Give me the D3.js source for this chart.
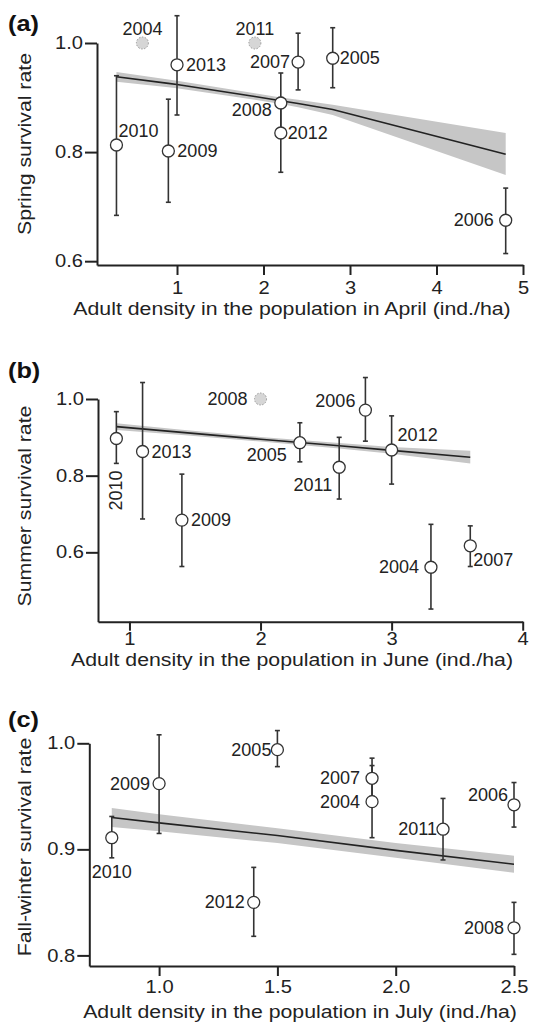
<!DOCTYPE html>
<html>
<head>
<meta charset="utf-8">
<script src="https://cdn.jsdelivr.net/npm/d3@7"></script>
<style>
  body { margin: 0; background: #fff; }
  svg { display: block; font-family: "Liberation Sans", Arial, sans-serif; }
  .axis path, .axis line { stroke: #222; stroke-width: 2; }
  .axis text { font-size: 17.5px; fill: #222; }
  .title { font-size: 18.5px; fill: #222; }
  .year { font-size: 18px; fill: #222; }
</style>
</head>
<body>
<div id="chart"></div>
<script>
// (a) spring survival vs April density
const aYears = ["2004", "2005", "2006", "2007", "2008", "2009", "2010", "2011", "2012", "2013"];
const aDensity = [0.6, 2.8, 4.8, 2.4, 2.2, 0.9, 0.3, 1.9, 2.2, 1.0];
const aSurv = [1.0, 0.972, 0.675, 0.965, 0.890, 0.802, 0.813, 1.0, 0.835, 0.960];
const aLow = [null, 0.918, 0.614, 0.914, 0.840, 0.708, 0.684, null, 0.763, 0.868];
const aHigh = [null, 1.028, 0.734, 1.018, 0.945, 0.897, 0.940, null, 0.900, 1.050];
const aFitX = [0.3, 0.9, 1.0, 1.9, 2.2, 2.4, 2.8, 4.8];
const aFit = [0.938, 0.926, 0.924, 0.902, 0.894, 0.889, 0.878, 0.796];
const aFitLow = [0.929, 0.919, 0.917, 0.896, 0.888, 0.882, 0.868, 0.758];
const aFitHigh = [0.947, 0.933, 0.931, 0.908, 0.900, 0.896, 0.887, 0.835];
const aXTicks = [1, 2, 3, 4, 5];
const aYTicks = [0.6, 0.8, 1.0];

// (b) summer survival vs June density
const bYears = ["2004", "2005", "2006", "2007", "2008", "2009", "2010", "2011", "2012", "2013"];
const bDensity = [3.3, 2.3, 2.8, 3.6, 2.0, 1.4, 0.9, 2.6, 3.0, 1.1];
const bSurv = [0.561, 0.886, 0.971, 0.617, 1.0, 0.684, 0.897, 0.822, 0.867, 0.863];
const bLow = [0.452, 0.836, 0.890, 0.563, null, 0.563, 0.832, 0.739, 0.778, 0.687];
const bHigh = [0.673, 0.938, 1.056, 0.669, null, 0.804, 0.967, 0.900, 0.956, 1.043];
const bFitX = [0.9, 1.4, 2.0, 2.6, 3.0, 3.6];
const bFit = [0.928, 0.913, 0.895, 0.878, 0.866, 0.848];
const bFitLow = [0.919, 0.906, 0.889, 0.871, 0.857, 0.832];
const bFitHigh = [0.937, 0.920, 0.901, 0.885, 0.875, 0.865];
const bXTicks = [1, 2, 3, 4];
const bYTicks = [0.6, 0.8, 1.0];

// (c) fall-winter survival vs July density
const cYears = ["2004", "2005", "2006", "2007", "2008", "2009", "2010", "2011", "2012"];
const cDensity = [1.9, 1.5, 2.5, 1.9, 2.5, 1.0, 0.8, 2.2, 1.4];
const cSurv = [0.945, 0.994, 0.942, 0.967, 0.826, 0.962, 0.911, 0.919, 0.850];
const cLow = [0.911, 0.978, 0.921, 0.950, 0.801, 0.915, 0.892, 0.890, 0.818];
const cHigh = [0.979, 1.012, 0.963, 0.986, 0.850, 1.008, 0.931, 0.948, 0.883];
const cFitX = [0.8, 1.0, 1.5, 2.0, 2.5];
const cFit = [0.930, 0.925, 0.913, 0.899, 0.886];
const cFitLow = [0.921, 0.917, 0.906, 0.892, 0.878];
const cFitHigh = [0.939, 0.933, 0.920, 0.906, 0.894];
const cXTicks = [1.0, 1.5, 2.0, 2.5];
const cYTicks = [0.8, 0.9, 1.0];

// label placement next to each circle: [dx, dy, anchor]
const aLabelPos = {
  "2004": [0, -14, "middle"], "2011": [0, -14, "middle"], "2013": [9, 0, "start"],
  "2010": [2, -14, "start"], "2009": [9, 0, "start"], "2008": [-9, 7, "end"],
  "2012": [7, 0, "start"], "2007": [-8, 0, "end"], "2005": [7, 0, "start"],
  "2006": [-12, 0, "end"]
};
const bLabelPos = {
  "2010": [0, 32, "rot"], "2013": [9, 0, "start"], "2009": [9, 0, "start"],
  "2008": [-13, 0, "end"], "2005": [-13, 12, "end"], "2011": [-7, 18, "end"],
  "2006": [-10, -9, "end"], "2012": [6, -15, "start"], "2004": [-12, 0, "end"],
  "2007": [3, 14, "start"]
};
const cLabelPos = {
  "2010": [0, 34, "middle"], "2009": [-9, 0, "end"], "2012": [-9, 0, "end"],
  "2005": [-6, 0, "end"], "2007": [-12, 0, "end"], "2004": [-12, 0, "end"],
  "2011": [-6, 0, "end"], "2006": [-6, -10, "end"], "2008": [-10, 0, "end"]
};

const width = 541, height = 1029;
const stretch = 1.15;   // the original lettering is a bit wide

const svg = d3.select("#chart")
  .append("svg")
  .attr("width", width)
  .attr("height", height);

// move a text's x/y into a transform so it can be widened
function widen(sel, extra) {
  sel.each(function () {
    let t = d3.select(this);
    let tx = +t.attr("x") || 0, ty = +t.attr("y") || 0;
    t.attr("x", 0).attr("y", 0)
      .attr("transform", `translate(${tx},${ty}) ${extra || ""} scale(${stretch},1)`);
  });
}

const panels = [
  { tag: "(a)", tagY: 31, years: aYears, xs: aDensity, ys: aSurv, lo: aLow, hi: aHigh,
    fitX: aFitX, fit: aFit, fitLo: aFitLow, fitHi: aFitHigh, xTicks: aXTicks, yTicks: aYTicks,
    labels: aLabelPos, xDomain: [0.075, 5], xRange: [97, 523], yDomain: [0.593, 1.0], yRange: [265, 43],
    xFmt: d3.format("d"), xTick: 10, xPad: 7, xTitle: "Adult density in the population in April (ind./ha)", xTitleX: 292, xTitleY: 315,
    yTitle: "Spring survival rate", yTitleY: 144 },
  { tag: "(b)", tagY: 378, years: bYears, xs: bDensity, ys: bSurv, lo: bLow, hi: bHigh,
    fitX: bFitX, fit: bFit, fitLo: bFitLow, fitHi: bFitHigh, xTicks: bXTicks, yTicks: bYTicks,
    labels: bLabelPos, xDomain: [0.76, 4], xRange: [98, 522.7], yDomain: [0.419, 1.0], yRange: [621.7, 399],
    xFmt: d3.format("d"), xTick: 9, xPad: 2, xTitle: "Adult density in the population in June (ind./ha)", xTitleX: 292, xTitleY: 666,
    yTitle: "Summer survival rate", yTitleY: 506 },
  { tag: "(c)", tagY: 727, years: cYears, xs: cDensity, ys: cSurv, lo: cLow, hi: cHigh,
    fitX: cFitX, fit: cFit, fitLo: cFitLow, fitHi: cFitHigh, xTicks: cXTicks, yTicks: cYTicks,
    labels: cLabelPos, xDomain: [0.705, 2.5], xRange: [89.3, 514], yDomain: [0.79, 1.0], yRange: [966, 743.3],
    xFmt: d3.format(".1f"), xTick: 10, xPad: 5, xTitle: "Adult density in the population in July (ind./ha)", xTitleX: 300, xTitleY: 1018,
    yTitle: "Fall-winter survival rate", yTitleY: 847 }
];

for (let p of panels) {
  let x = d3.scaleLinear().domain(p.xDomain).range(p.xRange);
  let y = d3.scaleLinear().domain(p.yDomain).range(p.yRange);
  let g = svg.append("g");

  // axes
  g.append("g")
    .attr("class", "axis")
    .attr("transform", `translate(0,${p.yRange[0]})`)
    .call(d3.axisBottom(x).tickValues(p.xTicks).tickFormat(p.xFmt).tickSize(p.xTick).tickSizeOuter(0).tickPadding(p.xPad))
    .call(a => widen(a.selectAll("text")));

  g.append("g")
    .attr("class", "axis")
    .attr("transform", `translate(${p.xRange[0]},0)`)
    .call(d3.axisLeft(y).tickValues(p.yTicks).tickFormat(d3.format(".1f")).tickSize(12).tickSizeOuter(0).tickPadding(2))
    .call(a => widen(a.selectAll("text")));

  svg.selectAll(".axis").attr("font-family", null).attr("font-size", null);

  // fitted line and its band
  let fitData = p.fitX.map((v, i) => ({ x: v, f: p.fit[i], lo: p.fitLo[i], hi: p.fitHi[i] }));

  g.append("path")
    .datum(fitData)
    .attr("fill", "#c6c6c6")
    .attr("d", d3.area().x(d => x(d.x)).y0(d => y(d.lo)).y1(d => y(d.hi)));

  g.append("path")
    .datum(fitData)
    .attr("fill", "none")
    .attr("stroke", "#222")
    .attr("stroke-width", 1.6)
    .attr("d", d3.line().x(d => x(d.x)).y(d => y(d.f)));

  let pts = p.years.map((yr, i) => ({ yr: yr, x: p.xs[i], y: p.ys[i], lo: p.lo[i], hi: p.hi[i] }));

  // error bars
  let bars = pts.filter(d => d.lo !== null);
  g.selectAll(".err")
    .data(bars)
    .join("line")
    .attr("x1", d => x(d.x)).attr("x2", d => x(d.x))
    .attr("y1", d => y(d.lo)).attr("y2", d => y(d.hi))
    .attr("stroke", "#333").attr("stroke-width", 1.6);

  for (let end of ["lo", "hi"]) {
    g.selectAll(".cap-" + end)
      .data(bars)
      .join("line")
      .attr("x1", d => x(d.x) - 2.5).attr("x2", d => x(d.x) + 2.5)
      .attr("y1", d => y(d[end])).attr("y2", d => y(d[end]))
      .attr("stroke", "#333").attr("stroke-width", 1.6);
  }

  // circles
  g.selectAll(".pt")
    .data(pts)
    .join("circle")
    .attr("cx", d => x(d.x))
    .attr("cy", d => y(d.y))
    .attr("r", 6)
    .attr("fill", d => d.lo === null ? "#d6d6d6" : "#fff")
    .attr("stroke", d => d.lo === null ? "#999" : "#333")
    .attr("stroke-width", d => d.lo === null ? 1 : 1.3)
    .attr("stroke-dasharray", d => d.lo === null ? "1.5,1.5" : null);

  // year labels
  for (let d of pts) {
    let pos = p.labels[d.yr];
    let cx = x(d.x) + pos[0], cy = y(d.y) + pos[1];
    let t = g.append("text")
      .attr("class", "year")
      .attr("dominant-baseline", "central")
      .text(d.yr);
    if (pos[2] === "rot") {
      t.attr("text-anchor", "end")
        .attr("transform", `translate(${cx},${cy}) rotate(-90)`);
    } else {
      t.attr("text-anchor", pos[2]).attr("x", cx).attr("y", cy);
    }
  }

  // titles
  g.append("text")
    .attr("class", "title")
    .attr("text-anchor", "middle")
    .attr("x", p.xTitleX)
    .attr("y", p.xTitleY)
    .text(p.xTitle)
    .call(widen);

  g.append("text")
    .attr("class", "title")
    .attr("text-anchor", "middle")
    .attr("x", 31)
    .attr("y", p.yTitleY)
    .text(p.yTitle)
    .call(t => widen(t, "rotate(-90)"));

  g.append("text")
    .attr("x", 8)
    .attr("y", p.tagY)
    .attr("font-size", 22)
    .attr("font-weight", "bold")
    .attr("fill", "#111")
    .text(p.tag)
    .call(widen);
}
</script>
</body>
</html>
